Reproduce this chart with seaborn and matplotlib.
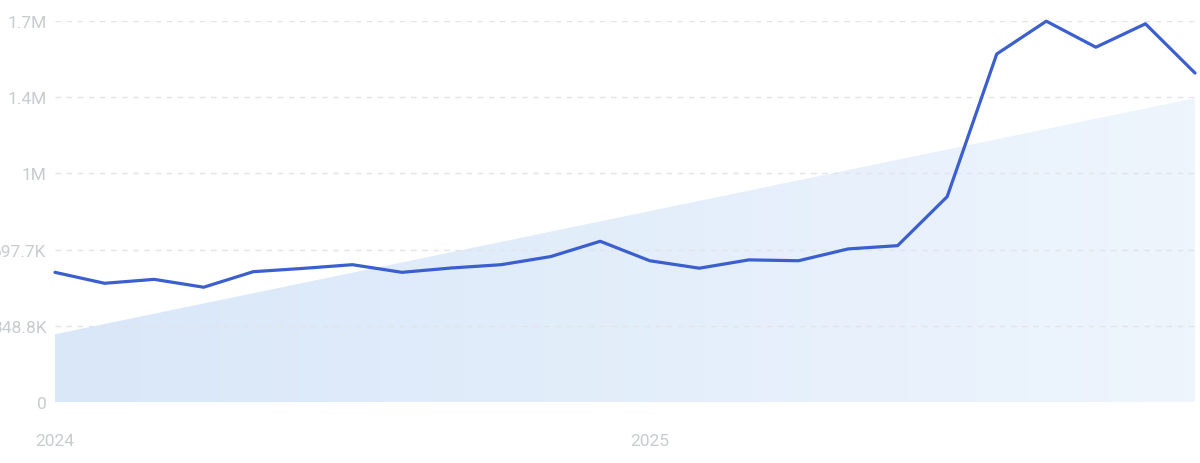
import numpy as np
import pandas as pd
import matplotlib
matplotlib.use("Agg")
import matplotlib.pyplot as plt
import seaborn as sns
from matplotlib.colors import LinearSegmentedColormap

# monthly values, Jan 2024 .. Dec 2025
months = pd.date_range("2024-01-01", periods=24, freq="MS")
values = [594e3, 544e3, 562e3, 526e3, 597e3, 612e3, 629e3, 594e3, 614e3, 629e3, 666e3, 736e3,
          647e3, 613e3, 651e3, 647e3, 701e3, 716e3, 940e3, 1592e3, 1742e3, 1623e3, 1730e3, 1505e3]

y_max = 1744.2e3
ytick_labels = ["0", "348.8K", "697.7K", "1M", "1.4M", "1.7M"]
xtick_idx = [0, 12]
xtick_labels = ["2024", "2025"]

df = pd.DataFrame({"month": months, "value": values})
df["idx"] = np.arange(len(df))

# linear trend behind the line
slope, intercept = np.polyfit(df["idx"], df["value"], 1)
df["trend"] = intercept + slope * df["idx"]

sns.set_style("white")
plt.rcParams["font.family"] = ["Roboto", "DejaVu Sans"]

fig = plt.figure(figsize=(12, 4.64), dpi=100)
ax = fig.add_axes([55 / 1200, 60.7 / 464, 1140 / 1200, 381.6 / 464])

# trend area with a horizontal gradient
poly = ax.fill_between(df["idx"], 0, df["trend"], color="none", lw=0)
cmap = LinearSegmentedColormap.from_list("g", ["#d9e7f9", "#eef5fd"])
grad = np.linspace(0, 1, 256).reshape(1, -1)
img = ax.imshow(grad, cmap=cmap, aspect="auto", extent=[0, len(df) - 1, 0, y_max],
                origin="lower", zorder=0.5)
img.set_clip_path(poly.get_paths()[0], transform=ax.transData)

yticks = [y_max / 5 * i for i in range(6)]
for t in yticks[1:]:
    ax.axhline(t, color="#e1e4e9", lw=1, ls=(0, (4, 4)), zorder=1)

sns.lineplot(data=df, x="idx", y="value", ax=ax, color="#3b5fcf", lw=2.3,
             zorder=3, clip_on=False)

ax.set_xlim(0, len(df) - 1)
ax.set_ylim(0, y_max)
ax.set_yticks(yticks)
ax.set_yticklabels(ytick_labels)
ax.set_xticks(xtick_idx)
ax.set_xticklabels(xtick_labels)
ax.tick_params(axis="y", length=0, pad=6, labelsize=12.5, labelcolor="#c8cbcf")
ax.tick_params(axis="x", length=0, pad=22, labelsize=12.5, labelcolor="#c8cbcf")
ax.set_xlabel("")
ax.set_ylabel("")
for s in ax.spines.values():
    s.set_visible(False)

fig.savefig("out.png", dpi=100)
